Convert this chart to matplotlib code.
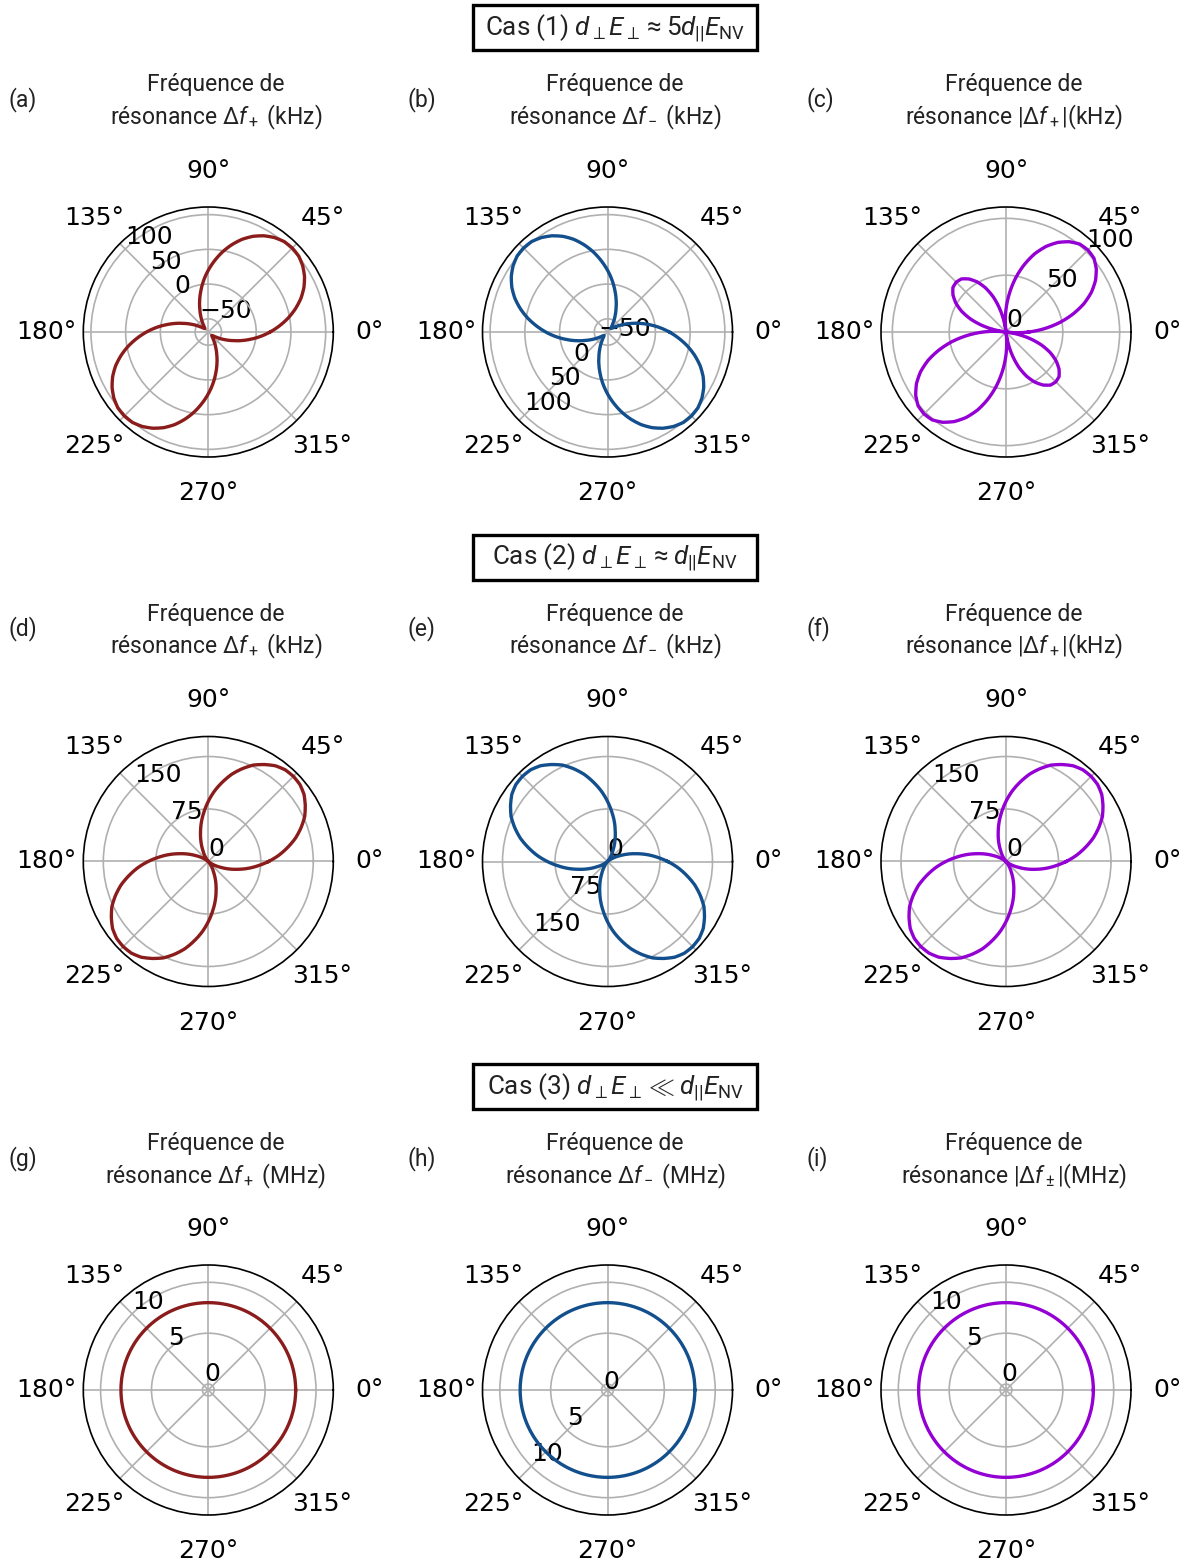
import numpy as np
import matplotlib
matplotlib.use("Agg")
import matplotlib.pyplot as plt
from matplotlib.patches import Rectangle

plt.rcParams['font.family'] = ['DejaVu Sans']
plt.rcParams['mathtext.fontset'] = 'custom'
plt.rcParams['mathtext.rm'] = 'Roboto'
plt.rcParams['mathtext.it'] = 'Roboto:italic'
plt.rcParams['mathtext.sf'] = 'Roboto'
plt.rcParams['mathtext.bf'] = 'Roboto:bold'

# ---------------- data (angles in degrees) ----------------
theta5 = [0, 5, 10, 15, 20, 25, 30, 35, 40, 45, 50, 55, 60, 65, 70, 75, 80, 85,
          90, 95, 100, 105, 110, 115, 120, 125, 130, 135, 140, 145, 150, 155, 160, 165, 170, 175,
          180, 185, 190, 195, 200, 205, 210, 215, 220, 225, 230, 235, 240, 245, 250, 255, 260, 265,
          270, 275, 280, 285, 290, 295, 300, 305, 310, 315, 320, 325, 330, 335, 340, 345, 350, 355, 360]
theta10 = [0, 10, 20, 30, 40, 50, 60, 70, 80, 90, 100, 110, 120, 130, 140, 150, 160, 170,
           180, 190, 200, 210, 220, 230, 240, 250, 260, 270, 280, 290, 300, 310, 320, 330, 340, 350, 360]

# Case 1 (kHz)
df_plus_1 = [20, 34, 48, 61, 73, 83, 91, 97, 101, 102, 101, 97, 91, 83, 73, 61, 48, 34,
             20, 6, -8, -21, -33, -43, -51, -57, -61, -62, -61, -57, -51, -43, -33, -21, -8, 6,
             20, 34, 48, 61, 73, 83, 91, 97, 101, 102, 101, 97, 91, 83, 73, 61, 48, 34,
             20, 6, -8, -21, -33, -43, -51, -57, -61, -62, -61, -57, -51, -43, -33, -21, -8, 6, 20]
df_minus_1 = [20, 6, -8, -21, -33, -43, -51, -57, -61, -62, -61, -57, -51, -43, -33, -21, -8, 6,
              20, 34, 48, 61, 73, 83, 91, 97, 101, 102, 101, 97, 91, 83, 73, 61, 48, 34,
              20, 6, -8, -21, -33, -43, -51, -57, -61, -62, -61, -57, -51, -43, -33, -21, -8, 6,
              20, 34, 48, 61, 73, 83, 91, 97, 101, 102, 101, 97, 91, 83, 73, 61, 48, 34, 20]
theta_abs_1 = [0, 5, 10, 15, 20, 25, 30, 35, 40, 45, 50, 55, 60, 65, 70, 75, 80, 85,
               90, 95, 97, 100, 105, 110, 115, 120, 125, 130, 135, 140, 145, 150, 155, 160, 165, 170, 173, 175,
               180, 185, 190, 195, 200, 205, 210, 215, 220, 225, 230, 235, 240, 245, 250, 255, 260, 265,
               270, 275, 277, 280, 285, 290, 295, 300, 305, 310, 315, 320, 325, 330, 335, 340, 345, 350, 353, 355, 360]
df_abs_1 = [20, 34, 48, 61, 73, 83, 91, 97, 101, 102, 101, 97, 91, 83, 73, 61, 48, 34,
            20, 6, 0, 8, 21, 33, 43, 51, 57, 61, 62, 61, 57, 51, 43, 33, 21, 8, 0, 6,
            20, 34, 48, 61, 73, 83, 91, 97, 101, 102, 101, 97, 91, 83, 73, 61, 48, 34,
            20, 6, 0, 8, 21, 33, 43, 51, 57, 61, 62, 61, 57, 51, 43, 33, 21, 8, 0, 6, 20]

# Case 2 (kHz)
df_plus_2 = [86, 101, 115, 129, 141, 152, 160, 167, 171, 172, 171, 167, 160, 152, 141, 129, 115, 101,
             86, 71, 57, 43, 31, 20, 12, 5, 1, 0, 1, 5, 12, 20, 31, 43, 57, 71,
             86, 101, 115, 129, 141, 152, 160, 167, 171, 172, 171, 167, 160, 152, 141, 129, 115, 101,
             86, 71, 57, 43, 31, 20, 12, 5, 1, 0, 1, 5, 12, 20, 31, 43, 57, 71, 86]
df_minus_2 = [86, 71, 57, 43, 31, 20, 12, 5, 1, 0, 1, 5, 12, 20, 31, 43, 57, 71,
              86, 101, 115, 129, 141, 152, 160, 167, 171, 172, 171, 167, 160, 152, 141, 129, 115, 101,
              86, 71, 57, 43, 31, 20, 12, 5, 1, 0, 1, 5, 12, 20, 31, 43, 57, 71,
              86, 101, 115, 129, 141, 152, 160, 167, 171, 172, 171, 167, 160, 152, 141, 129, 115, 101, 86]
df_abs_2 = [86, 101, 115, 129, 141, 152, 160, 167, 171, 172, 171, 167, 160, 152, 141, 129, 115, 101,
            86, 71, 57, 43, 31, 20, 12, 5, 1, 0, 1, 5, 12, 20, 31, 43, 57, 71,
            86, 101, 115, 129, 141, 152, 160, 167, 171, 172, 171, 167, 160, 152, 141, 129, 115, 101,
            86, 71, 57, 43, 31, 20, 12, 5, 1, 0, 1, 5, 12, 20, 31, 43, 57, 71, 86]

# Case 3 (MHz)
df_plus_3 = [8.0] * 37
df_minus_3 = [8.0] * 37
df_abs_3 = [8.0] * 37

# ---------------- labels ----------------
case_labels = [r'Cas (1) $d_\perp E_\perp \approx 5d_{||}E_{\mathrm{NV}}$',
               r'Cas (2) $d_\perp E_\perp \approx d_{||}E_{\mathrm{NV}}$',
               r'Cas (3) $d_\perp E_\perp \ll d_{||}E_{\mathrm{NV}}$']
panel_letters = ['(a)', '(b)', '(c)', '(d)', '(e)', '(f)', '(g)', '(h)', '(i)']
title_line2 = [r'résonance $\Delta f_+$ (kHz)', r'résonance $\Delta f_-$ (kHz)', r'résonance $|\Delta f_+|$(kHz)',
               r'résonance $\Delta f_+$ (kHz)', r'résonance $\Delta f_-$ (kHz)', r'résonance $|\Delta f_+|$(kHz)',
               r'résonance $\Delta f_+$ (MHz)', r'résonance $\Delta f_-$ (MHz)', r'résonance $|\Delta f_\pm|$(MHz)']

red, blue, purple = '#8b1c1c', '#124f8c', '#9400d3'

panels = [
    (theta5, df_plus_1, red, (-69, 111), [-50, 0, 50, 100], 135),
    (theta5, df_minus_1, blue, (-69, 111), [-50, 0, 50, 100], 225),
    (theta_abs_1, df_abs_1, purple, (0, 110), [0, 50, 100], 45),
    (theta5, df_plus_2, red, (0, 178.6), [0, 75, 150], 135),
    (theta5, df_minus_2, blue, (0, 178.6), [0, 75, 150], 225),
    (theta5, df_abs_2, purple, (0, 178.6), [0, 75, 150], 135),
    (theta10, df_plus_3, red, (-0.58, 11.7), [0, 5, 10], 135),
    (theta10, df_minus_3, blue, (-0.58, 11.7), [0, 5, 10], 225),
    (theta10, df_abs_3, purple, (-0.58, 11.7), [0, 5, 10], 135),
]

W, H = 1187, 1567
fig = plt.figure(figsize=(W / 150, H / 150), dpi=150)

col_cx = [208.3, 607.5, 1006.0]
row_cy = [332.0, 861.5, 1390.0]
R = 125.0
ROW_STEP = 529.5

title_font = dict(family='Roboto', weight='normal', fontsize=11, color='#222222')

for i, (th, r, col, rl, rt, rpos) in enumerate(panels):
    row, c = divmod(i, 3)
    cx, cy = col_cx[c], row_cy[row]
    ax = fig.add_axes([(cx - R) / W, 1 - (cy + R) / H, 2 * R / W, 2 * R / H], projection='polar')
    ln, = ax.plot(np.deg2rad(th), r, color=col, lw=1.6)
    ln.get_path()._interpolation_steps = 20   # draw segments along polar arcs
    ax.set_ylim(*rl)
    ax.set_yticks(rt)
    ax.set_yticklabels([str(v).replace('-', '\u2212') for v in rt])
    ax.set_rlabel_position(rpos)
    ax.tick_params(axis='x', pad=7, labelsize=12)
    ax.tick_params(axis='y', labelsize=12)
    ax.grid(True, color='#b0b0b0', lw=0.8)
    # titles
    fig.text((cx + 7.5) / W, 1 - (91 + ROW_STEP * row) / H, 'Fréquence de', ha='center', va='baseline', **title_font)
    fig.text((cx + 7.5) / W, 1 - (124 + ROW_STEP * row) / H, title_line2[i], ha='center', va='baseline', **title_font)
    fig.text((cx - 200) / W, 1 - (106 + ROW_STEP * row) / H, panel_letters[i], ha='left', va='baseline', **title_font)

for row in range(3):
    y0 = 5 + ROW_STEP * row
    fig.patches.append(Rectangle((473 / W, 1 - (y0 + 45) / H), 284 / W, 45 / H, transform=fig.transFigure,
                                 fill=False, ec='black', lw=1.6))
    fig.text(615 / W, 1 - (y0 + 31) / H, case_labels[row], ha='center', va='baseline',
             family='Roboto', fontsize=12.5, color='#222222')

fig.savefig('out.png', dpi=150)
